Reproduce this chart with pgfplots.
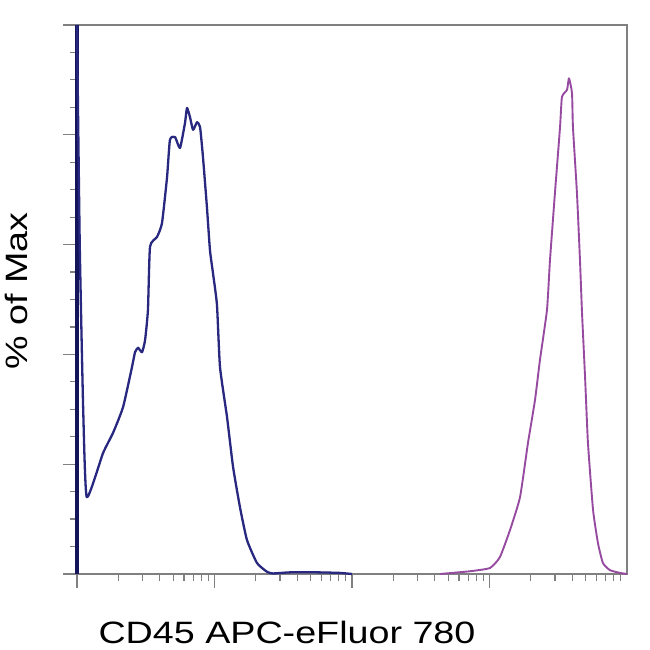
\documentclass[border=0pt]{standalone}
\usepackage{pgfplots}
\pgfplotsset{compat=1.18}
\usepackage{graphicx}
\usepackage{fontspec}
\setmainfont{Liberation Sans}

\definecolor{navy}{RGB}{40,40,128}
\definecolor{axnavy}{RGB}{20,20,90}
\definecolor{plum}{RGB}{150,75,160}
\definecolor{frame}{RGB}{128,128,128}

\begin{document}
\begin{tikzpicture}
\begin{axis}[
    scale only axis,
    width=550bp, height=549bp,
    xmin=0, xmax=4,
    ymin=0, ymax=100,
    xtick={0,1,2,3},
    minor xtick={0.301,0.477,0.602,0.699,0.778,0.845,0.903,0.954,
                 1.301,1.477,1.602,1.699,1.778,1.845,1.903,1.954,
                 2.301,2.477,2.602,2.699,2.778,2.845,2.903,2.954,
                 3.301,3.477,3.602,3.699,3.778,3.845,3.903,3.954},
    ytick={0,20,40,60,80,100},
    minor y tick num=3,
    xticklabels={}, yticklabels={},
    tick pos=left,
    tick align=outside,
    major tick length=14bp,
    minor tick length=7bp,
    every tick/.style={frame, line width=1.2bp},
    axis line style={frame, line width=2bp},
    clip=false,
]

% off-scale events piled up at the left edge
\addplot[axnavy, line width=4.5bp] coordinates {(0,0) (0,100)};

% CD45 negative (blue)
\addplot[navy, line width=2.3bp, line join=round, smooth, tension=0.3] coordinates {
    (0,100) (0.02,60) (0.045,30) (0.071,14.0) (0.189,22.0) (0.262,25.7)
    (0.335,30.4) (0.400,37.7) (0.422,40.4) (0.444,41.2) (0.473,40.4)
    (0.495,42.6) (0.516,48.1) (0.531,59.6) (0.582,61.4) (0.618,63.9)
    (0.655,72.3) (0.676,79.1) (0.713,79.6) (0.749,77.6) (0.785,82.1)
    (0.800,84.9) (0.822,83.2) (0.844,80.9) (0.873,82.3) (0.895,81.4)
    (0.916,76.0) (0.945,66.8) (0.967,59.0) (0.989,54.8) (1.018,49.0)
    (1.040,37.7) (1.091,28.6) (1.135,19.5) (1.185,12.2) (1.236,6.2)
    (1.309,2.0) (1.382,0.4) (1.425,0.1) (1.55,0.3) (1.75,0.3) (1.91,0.2)
    (2.0,0)
};

% CD45 positive (purple)
\addplot[plum, line width=1.9bp, line join=round, smooth, tension=0.3] coordinates {
    (2.64,0) (2.858,0.5) (3.004,1.1) (3.076,3.1) (3.149,8.0) (3.222,14.0)
    (3.280,23.9) (3.331,31.7) (3.367,39.0) (3.418,48.1) (3.440,57.2)
    (3.476,69.4) (3.513,81.4) (3.527,86.9) (3.564,88.2) (3.578,90.3)
    (3.600,87.6) (3.607,81.4) (3.636,69.4) (3.658,57.2) (3.673,47.5)
    (3.695,35.9) (3.716,23.9) (3.753,11.7) (3.789,5.6) (3.825,2.0)
    (3.876,0.7) (3.949,0.2) (4,0)
};

\end{axis}

\node[rotate=90] at (-61bp,283bp)
    {\scalebox{1.22}[1]{\fontsize{31}{31}\selectfont \% of Max}};
\node at (210bp,-58bp)
    {\scalebox{1.22}[1]{\fontsize{31}{31}\selectfont CD45 APC-eFluor 780}};

\pgfresetboundingbox
\path[use as bounding box] (-77bp,-76bp) rectangle (573bp,574bp);
\end{tikzpicture}
\end{document}
